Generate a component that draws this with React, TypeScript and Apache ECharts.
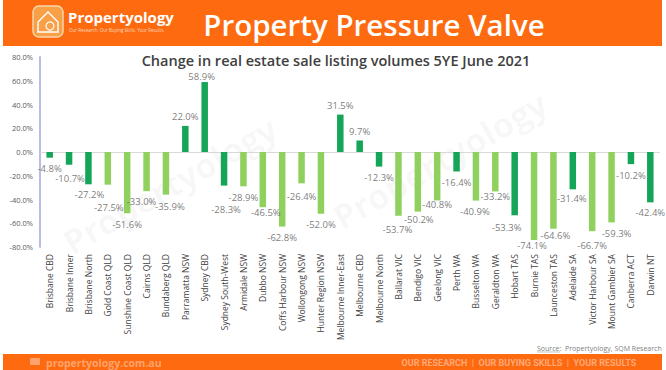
import React, { useEffect, useRef } from "react";
import * as echarts from "echarts";

const categories: string[] = [
  "Brisbane CBD", "Brisbane Inner", "Brisbane North", "Gold Coast QLD", "Sunshine Coast QLD",
  "Cairns QLD", "Bundaberg QLD", "Parramatta NSW", "Sydney CBD", "Sydney South-West",
  "Armidale NSW", "Dubbo NSW", "Coffs Harbour NSW", "Wollongong NSW", "Hunter Region NSW",
  "Melbourne Inner-East", "Melbourne CBD", "Melbourne North", "Ballarat VIC", "Bendigo VIC",
  "Geelong VIC", "Perth WA", "Busselton WA", "Geraldton WA", "Hobart TAS",
  "Burnie TAS", "Launceston TAS", "Adelaide SA", "Victor Harbour SA", "Mount Gambier SA",
  "Canberra ACT", "Darwin NT",
];

const changePct: number[] = [
  -4.8, -10.7, -27.2, -27.5, -51.6,
  -33.0, -35.9, 22.0, 58.9, -28.3,
  -28.9, -46.5, -62.8, -26.4, -52.0,
  31.5, 9.7, -12.3, -53.7, -50.2,
  -40.8, -16.4, -40.9, -33.2, -53.3,
  -74.1, -64.6, -31.4, -66.7, -59.3,
  -10.2, -42.4,
];

// C = capital city market, R = regional market
const marketType: string[] = [
  "C", "C", "C", "R", "R",
  "R", "R", "C", "C", "C",
  "R", "R", "R", "R", "R",
  "C", "C", "C", "R", "R",
  "R", "C", "R", "R", "C",
  "R", "R", "C", "R", "R",
  "C", "C",
];

const yTicks = { min: -80, max: 80, interval: 20 };

const chartTitle = "Change in real estate sale listing volumes 5YE June 2021";
const headerTitle = "Property Pressure Valve";
const sourceText = "Source:  Propertyology, SQM Research";

// label nudges (pixels) relative to the bar end, layout only
const labelNudge: number[][] = [
  [0, 11], [1, 14], [1, 10], [1, 23], [0, 11],
  [-5, 10], [4, 12], [0, -9], [-3, -6], [2, 24],
  [0, 11], [3, 5], [0, 11], [0, 13], [0, 11],
  [0, -9], [0, -9], [0, 11], [-1, 14], [1, 8],
  [0, 4], [0, 11], [-1, 11], [0, 5], [-8, 12],
  [-2, 6], [2, 7], [-1, 9], [0, 14], [5, 11],
  [0, 11], [0, 10],
];

const ORANGE = "#fd6a10";
const DARK_GREEN = "#14a558";
const LIGHT_GREEN = "#8fd05e";

export default function App() {
  const ref = useRef<HTMLDivElement>(null);

  useEffect(() => {
    if (!ref.current) return;
    const chart = echarts.init(ref.current, undefined, { renderer: "svg" });

    const barData = changePct.map((v, i) => ({
      value: v,
      itemStyle: { color: marketType[i] === "C" ? DARK_GREEN : LIGHT_GREEN },
    }));

    const labelData = changePct.map((v, i) => ({
      value: [categories[i], v],
      label: { offset: labelNudge[i] },
    }));

    const watermark = (x: number, y: number, size: number) => ({
      type: "text",
      x,
      y,
      rotation: 0.52,
      z: 0,
      silent: true,
      style: {
        text: "Propertyology",
        fill: "rgba(0,0,0,0.035)",
        font: `bold ${size}px "Open Sans"`,
        textAlign: "center",
        textVerticalAlign: "middle",
      },
    });

    const option: any = {
      animation: false,
      backgroundColor: "#ffffff",
      grid: { left: 40, top: 57, width: 620, height: 190 },
      xAxis: {
        type: "category",
        data: categories,
        axisLine: { show: false, onZero: false },
        axisTick: { show: false },
        splitLine: { show: false },
        axisLabel: {
          rotate: 90,
          interval: 0,
          margin: 7,
          fontSize: 8.5,
          fontFamily: "Open Sans",
          color: "#404040",
        },
      },
      yAxis: {
        type: "value",
        min: yTicks.min,
        max: yTicks.max,
        interval: yTicks.interval,
        axisLine: { show: true, lineStyle: { color: "#b9bde6", width: 2 } },
        axisTick: { show: false },
        splitLine: { show: false },
        axisLabel: {
          margin: 7,
          fontSize: 7.5,
          fontFamily: "Open Sans",
          color: "#595959",
          formatter: (v: number) => v.toFixed(1) + "%",
        },
      },
      series: [
        {
          type: "bar",
          data: barData,
          barWidth: 6.5,
          z: 3,
          markLine: {
            silent: true,
            symbol: "none",
            label: { show: false },
            lineStyle: { color: "#d9d9d9", width: 1, type: "solid" },
            data: [{ yAxis: 0 }],
            z: 2,
          },
        },
        {
          type: "scatter",
          data: labelData,
          symbolSize: 1,
          itemStyle: { color: "rgba(0,0,0,0)" },
          z: 4,
          label: {
            show: true,
            position: "inside",
            fontSize: 9.5,
            fontFamily: "Open Sans",
            color: "#595959",
            formatter: (p: any) => p.value[1].toFixed(1) + "%",
          },
        },
      ],
      graphic: [
        watermark(170, 185, 34),
        watermark(440, 160, 34),
        {
          type: "rect",
          shape: { x: 3, y: 0, width: 659, height: 46 },
          style: { fill: ORANGE },
          z: 5,
        },
        {
          type: "rect",
          shape: { x: 33, y: 6, width: 30, height: 31, r: 6 },
          style: { fill: "#f8a048", stroke: "#fbd3ac", lineWidth: 1.5 },
          z: 6,
        },
        {
          type: "polyline",
          shape: { points: [[38, 22], [48, 12], [58, 22], [58, 32], [38, 32], [38, 22]] },
          style: { stroke: "#ffffff", lineWidth: 1.4, fill: "none" },
          z: 7,
        },
        {
          type: "circle",
          shape: { cx: 50, cy: 26, r: 4 },
          style: { stroke: "#ffffff", lineWidth: 1.2, fill: "none" },
          z: 7,
        },
        {
          type: "text",
          x: 68,
          y: 17,
          z: 6,
          style: {
            text: "Propertyology",
            fill: "#ffffff",
            font: 'bold 15px "Open Sans"',
            textVerticalAlign: "middle",
          },
        },
        {
          type: "text",
          x: 69,
          y: 30,
          z: 6,
          style: {
            text: "Our Research. Our Buying Skills. Your Results.",
            fill: "#ffd9bf",
            font: '4.5px "Open Sans"',
            textVerticalAlign: "middle",
          },
        },
        {
          type: "text",
          x: 374,
          y: 24,
          z: 6,
          style: {
            text: headerTitle,
            fill: "#ffffff",
            font: '600 29.5px "Open Sans"',
            textAlign: "center",
            textVerticalAlign: "middle",
          },
        },
        {
          type: "text",
          x: 336,
          y: 60,
          z: 6,
          style: {
            text: chartTitle,
            fill: "#404040",
            font: '600 14.5px "Open Sans"',
            textAlign: "center",
            textVerticalAlign: "middle",
          },
        },
        {
          type: "text",
          x: 537,
          y: 348,
          z: 6,
          style: {
            text: sourceText,
            fill: "#7f7f7f",
            font: '7px "Open Sans"',
            textVerticalAlign: "middle",
          },
        },
        {
          type: "line",
          shape: { x1: 537, y1: 352, x2: 560, y2: 352 },
          style: { stroke: "#9a9a9a", lineWidth: 0.6 },
          z: 6,
        },
        {
          type: "rect",
          shape: { x: 3, y: 354, width: 659, height: 16 },
          style: { fill: ORANGE },
          z: 5,
        },
        {
          type: "rect",
          shape: { x: 30, y: 358, width: 10, height: 7, r: 1 },
          style: { fill: "#ffa36c" },
          z: 6,
        },
        {
          type: "text",
          x: 46,
          y: 363,
          z: 6,
          style: {
            text: "propertyology.com.au",
            fill: "#ffa36c",
            font: 'bold 10.5px "Open Sans"',
            textVerticalAlign: "middle",
          },
        },
        {
          type: "text",
          x: 519,
          y: 363,
          z: 6,
          style: {
            text: "OUR RESEARCH  |  OUR BUYING SKILLS  |  YOUR RESULTS",
            fill: "#ffa878",
            font: 'bold 9px Roboto',
            textAlign: "center",
            textVerticalAlign: "middle",
          },
        },
      ],
    };

    chart.setOption(option);
    return () => chart.dispose();
  }, []);

  return (
    <div
      ref={ref}
      style={{ position: "fixed", left: 0, top: 0, width: 666, height: 370, background: "#fff" }}
    />
  );
}
